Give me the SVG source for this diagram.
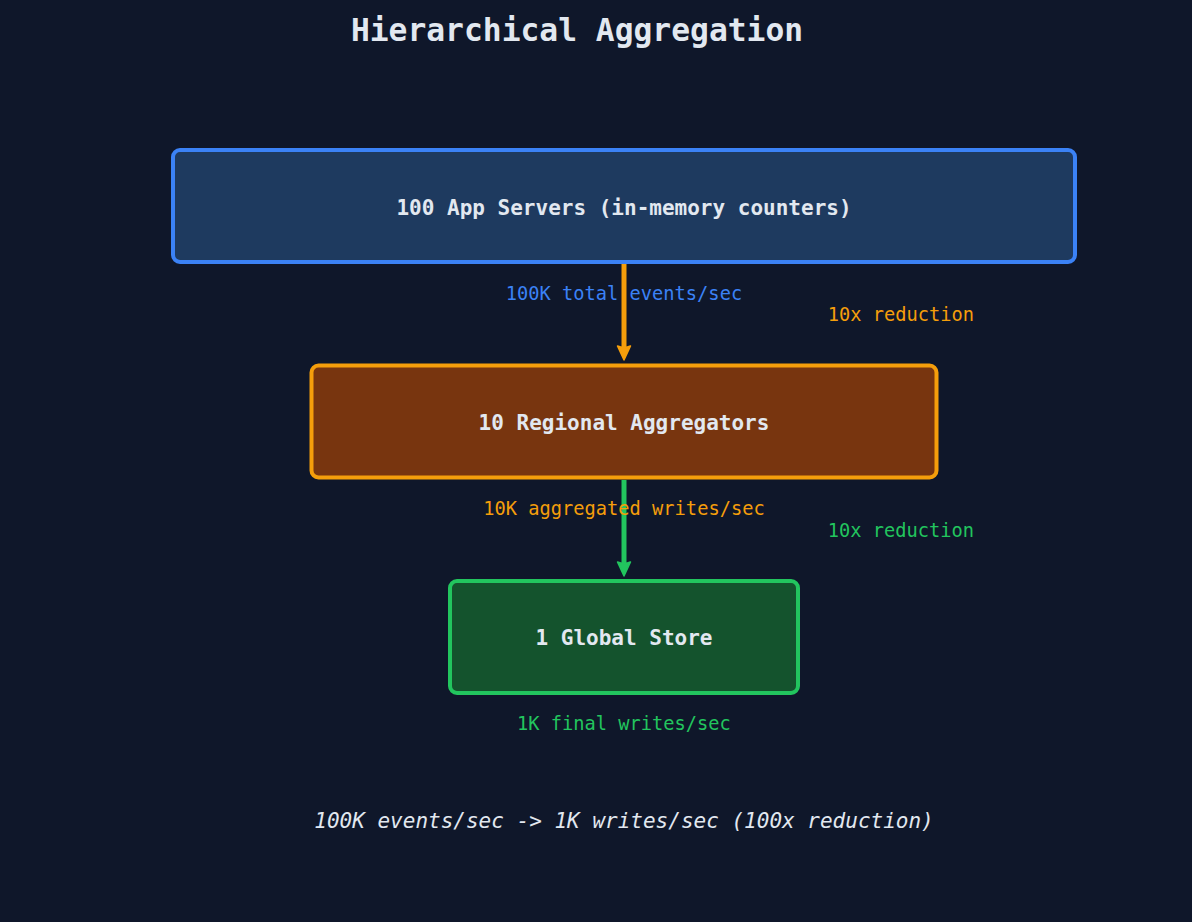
<svg xmlns="http://www.w3.org/2000/svg" width="1192" height="922" viewBox="0 0 1192 922">
<style>
text{font-family:"DejaVu Sans Mono","Liberation Mono",monospace;text-anchor:middle}
.title{font-size:31.3px;font-weight:bold;fill:#e2e8f0}
.node{font-size:21px;font-weight:bold;fill:#e2e8f0}
.lbl{font-size:18.7px}
.foot{font-size:21px;font-style:italic;fill:#e2e8f0}
.box{stroke-width:4}
.head{stroke-width:1.5;stroke-linejoin:round}
</style>
<rect width="1192" height="922" fill="#0f172a"/>
<text class="title" x="577" y="41">Hierarchical Aggregation</text>
<g id="connectors">
<line x1="624" y1="264" x2="624" y2="350" stroke="#f59e0b" stroke-width="5"/>
<path class="head" d="M617.5,346 L624,360 L630.5,346 Q624,349 617.5,346 Z" fill="#f59e0b" stroke="#f59e0b"/>
<line x1="624" y1="480" x2="624" y2="566" stroke="#22c55e" stroke-width="5"/>
<path class="head" d="M617.5,562 L624,576 L630.5,562 Q624,565 617.5,562 Z" fill="#22c55e" stroke="#22c55e"/>
<text class="lbl" x="624" y="300" fill="#3b82f6">100K total events/sec</text>
<text class="lbl" x="901" y="321" fill="#f59e0b">10x reduction</text>
<text class="lbl" x="624" y="515" fill="#f59e0b">10K aggregated writes/sec</text>
<text class="lbl" x="901" y="537" fill="#22c55e">10x reduction</text>
<text class="lbl" x="624" y="730" fill="#22c55e">1K final writes/sec</text>
</g>
<g id="app-servers">
<rect class="box" x="173" y="150" width="902" height="112" rx="7" fill="#1e3a5f" stroke="#3b82f6"/>
<text class="node" x="624" y="214.5">100 App Servers (in-memory counters)</text>
</g>
<g id="regional-aggregators">
<rect class="box" x="311.5" y="365.5" width="625" height="112" rx="7" fill="#78350f" stroke="#f59e0b"/>
<text class="node" x="624" y="429.5">10 Regional Aggregators</text>
</g>
<g id="global-store">
<rect class="box" x="450" y="581" width="348" height="112" rx="7" fill="#14532d" stroke="#22c55e"/>
<text class="node" x="624" y="644.5">1 Global Store</text>
</g>
<text class="foot" x="624" y="828">100K events/sec -&gt; 1K writes/sec (100x reduction)</text>
</svg>
